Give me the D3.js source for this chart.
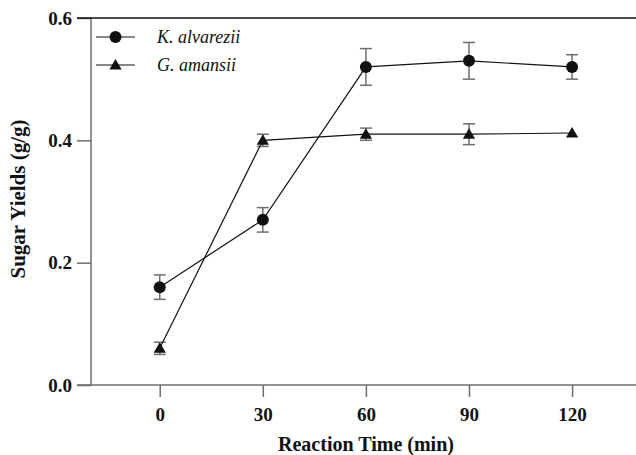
<!DOCTYPE html>
<html>
<head>
<meta charset="utf-8">
<script src="https://cdn.jsdelivr.net/npm/d3@7"></script>
<style>
  body { margin: 0; background: #fff; }
  svg { display: block; }
  text { font-family: "Liberation Serif", "DejaVu Serif", "Times New Roman", serif; }
</style>
</head>
<body>
<svg width="636" height="455"></svg>
<script>
// reaction times (min)
var times = [0, 30, 60, 90, 120];
var yTicks = [0.0, 0.2, 0.4, 0.6];

// K. alvarezii
var kaValues = [0.16, 0.27, 0.52, 0.53, 0.52];
var kaErrors = [0.02, 0.02, 0.03, 0.03, 0.02];

// G. amansii
var gaValues = [0.06, 0.40, 0.41, 0.41, 0.412];
var gaErrors = [0.01, 0.01, 0.01, 0.017, 0.0];

var seriesNames = ["K. alvarezii", "G. amansii"];

var svg = d3.select("svg");

var x = d3.scaleLinear().domain([-20, 138.6]).range([91, 636]);
var y = d3.scaleLinear().domain([0, 0.6]).range([385, 18]);

var axisGray = "#6e6e6e";

// x axis
var xAxis = svg.append("g")
               .attr("transform", "translate(0," + y(0) + ")")
               .call(d3.axisBottom(x).tickValues(times).tickSize(12).tickSizeOuter(0).tickFormat(d3.format("d")));
xAxis.select(".domain").remove();
xAxis.selectAll("line").attr("stroke", axisGray).attr("stroke-width", 1.5);
xAxis.selectAll("text")
     .attr("dy", "1.1em")
     .attr("fill", "#111")
     .style("font-size", "19px")
     .style("font-weight", "bold")
     .style("font-family", "Liberation Serif");

// y axis
var yAxis = svg.append("g")
               .attr("transform", "translate(" + x.range()[0] + ",0)")
               .call(d3.axisLeft(y).tickValues(yTicks).tickSize(14).tickSizeOuter(0).tickFormat(d3.format(".1f")));
yAxis.select(".domain").remove();
yAxis.selectAll("line").attr("stroke", axisGray).attr("stroke-width", 1.5);
yAxis.selectAll("text")
     .attr("dx", "-0.1em")
     .attr("fill", "#111")
     .style("font-size", "19px")
     .style("font-weight", "bold")
     .style("font-family", "Liberation Serif");

// frame lines: left, bottom, top
svg.append("line")
   .attr("x1", x.range()[0]).attr("x2", x.range()[0])
   .attr("y1", y(0)).attr("y2", y(0.6))
   .attr("stroke", axisGray).attr("stroke-width", 1.5);
svg.append("line")
   .attr("x1", x.range()[0] - 14).attr("x2", x.range()[1])
   .attr("y1", y(0)).attr("y2", y(0))
   .attr("stroke", axisGray).attr("stroke-width", 1.5);
svg.append("line")
   .attr("x1", x.range()[0] - 14).attr("x2", x.range()[1])
   .attr("y1", y(0.6)).attr("y2", y(0.6))
   .attr("stroke", "#111").attr("stroke-width", 1.5);

// axis titles
svg.append("text")
   .attr("x", 366).attr("y", 451)
   .attr("text-anchor", "middle")
   .attr("fill", "#111")
   .style("font-size", "20px")
   .style("font-weight", "bold")
   .text("Reaction Time (min)");

svg.append("text")
   .attr("transform", "translate(25,199) rotate(-90)")
   .attr("text-anchor", "middle")
   .attr("fill", "#111")
   .style("font-size", "21px")
   .style("font-weight", "bold")
   .text("Sugar Yields (g/g)");

var line = d3.line()
             .x(function(d, i){ return x(times[i]); })
             .y(function(d){ return y(d); });

var triangle = d3.symbol().type(d3.symbolTriangle).size(65);

var drawSeries = function(values, errors, marker)
{
  var g = svg.append("g");

  // error bars
  var eb = g.selectAll(".err")
            .data(values)
            .enter()
            .append("g")
            .filter(function(d, i){ return errors[i] > 0; });
  eb.append("line")
    .attr("x1", function(d, i){ return x(times[i]); })
    .attr("x2", function(d, i){ return x(times[i]); })
    .attr("y1", function(d, i){ return y(d - errors[i]); })
    .attr("y2", function(d, i){ return y(d + errors[i]); })
    .attr("stroke", axisGray).attr("stroke-width", 1.5);
  [-1, 1].forEach(function(s){
    eb.append("line")
      .attr("x1", function(d, i){ return x(times[i]) - 6; })
      .attr("x2", function(d, i){ return x(times[i]) + 6; })
      .attr("y1", function(d, i){ return y(d + s * errors[i]); })
      .attr("y2", function(d, i){ return y(d + s * errors[i]); })
      .attr("stroke", axisGray).attr("stroke-width", 1.5);
  });

  g.append("path")
   .attr("d", line(values))
   .attr("fill", "none")
   .attr("stroke", "#111")
   .attr("stroke-width", 1.2);

  if (marker == "circle") {
    g.selectAll("circle")
     .data(values)
     .enter()
     .append("circle")
     .attr("cx", function(d, i){ return x(times[i]); })
     .attr("cy", function(d){ return y(d); })
     .attr("r", 6)
     .attr("fill", "#111");
  } else {
    g.selectAll(".tri")
     .data(values)
     .enter()
     .append("path")
     .attr("d", triangle)
     .attr("transform", function(d, i){ return "translate(" + x(times[i]) + "," + (y(d) + 1) + ")"; })
     .attr("fill", "#111");
  }
};

drawSeries(kaValues, kaErrors, "circle");
drawSeries(gaValues, gaErrors, "triangle");

// legend
var legend = svg.append("g");
var legendY = [37, 65];
seriesNames.forEach(function(name, i){
  legend.append("line")
        .attr("x1", 96).attr("x2", 135)
        .attr("y1", legendY[i]).attr("y2", legendY[i])
        .attr("stroke", "#111").attr("stroke-width", 1.2);
  if (i == 0) {
    legend.append("circle")
          .attr("cx", 115.5).attr("cy", legendY[i]).attr("r", 6)
          .attr("fill", "#111");
  } else {
    legend.append("path")
          .attr("d", triangle)
          .attr("transform", "translate(115.5," + (legendY[i] + 1) + ")")
          .attr("fill", "#111");
  }
  legend.append("text")
        .attr("x", 157).attr("y", legendY[i] + 6)
        .attr("fill", "#111")
        .style("font-size", "18px")
        .style("font-style", "italic")
        .text(name);
});
</script>
</body>
</html>
